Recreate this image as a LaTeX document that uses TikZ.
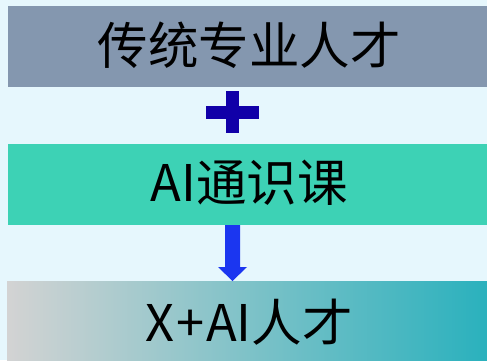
\documentclass[tikz,border=0pt]{standalone}
\usepackage{fontspec}
\newfontfamily\cjk{Noto Sans CJK SC}
\definecolor{bgc}{HTML}{E6F7FD}
\definecolor{topc}{HTML}{8497AF}
\definecolor{midc}{HTML}{3DD2B5}
\definecolor{plusc}{HTML}{1100A8}
\definecolor{arrc}{HTML}{1B36F0}
\definecolor{gl}{HTML}{D3D3D3}
\definecolor{gr}{HTML}{2AB1BD}
\begin{document}
\begin{tikzpicture}[x=1pt,y=-1pt,
  lbl/.style={font=\cjk\fontsize{50.5}{54}\selectfont, text=black, inner sep=0pt, anchor=center}]
\fill[bgc] (0,0) rectangle (487,360);
\useasboundingbox (0,0) rectangle (487,360);
% bars
\fill[topc] (8,6) rectangle (487,87);
\fill[midc] (8,144) rectangle (487,225);
\shade[left color=gl, right color=gr] (7,281) rectangle (487,360);
\node[lbl] (top) at (249,45) {传统专业人才};
\node[lbl] (mid) at (249,183) {AI通识课};
\node[lbl] (bot) at (249,322) {X{\hspace{2pt}}+{\hspace{2pt}}AI人才};
% plus
\fill[plusc] (225.5,91) rectangle (238.5,133);
\fill[plusc] (205.5,105.5) rectangle (258.5,118.5);
% arrow
\coordinate (as) at (232.5,225);
\coordinate (at) at (232.5,281);
\fill[arrc] (225,225) -- (240,225) -- (240,267) -- (247,267) -- (232.5,281) -- (218,267) -- (225,267) -- cycle;
\end{tikzpicture}
\end{document}
